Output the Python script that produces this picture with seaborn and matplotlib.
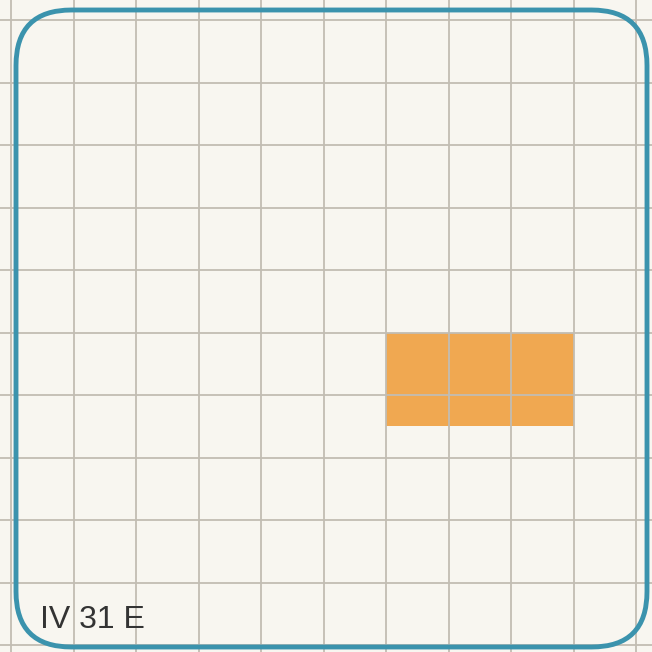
import seaborn as sns
import matplotlib.pyplot as plt
from matplotlib.patches import FancyBboxPatch

# grid cells of the sheet (1 unit = 1 square)
grid_x = list(range(0, 11))
grid_y = list(range(0, 11))

# the coloured block: left, top, width, height in squares
block_left = [6]
block_top = [5]
block_width = [3]
block_height = [1.5]

label = "IV 31 E"

sns.set_theme(style="white")
plt.rcParams['font.family'] = ['Liberation Sans', 'DejaVu Sans']

fig = plt.figure(figsize=(6.52, 6.52), dpi=100)
fig.patch.set_facecolor('#f8f6f0')
ax = fig.add_axes([0, 0, 1, 1])
ax.set_facecolor('#f8f6f0')

ax.set_xlim(-0.176, 10.256)
ax.set_ylim(10.11, -0.32)

ax.bar([l + w / 2 for l, w in zip(block_left, block_width)], block_height,
       width=block_width, bottom=block_top, color='#f0a243', alpha=0.92,
       edgecolor='none', zorder=1)

for gx in grid_x:
    ax.axvline(gx, color='#c2bdb3', lw=1.3, zorder=2)
for gy in grid_y:
    ax.axhline(gy, color='#c2bdb3', lw=1.3, zorder=2)

ax.set_xticks([])
ax.set_yticks([])
for s in ax.spines.values():
    s.set_visible(False)

border = FancyBboxPatch((16 / 652, 5 / 652), 631 / 652, 637 / 652,
                        boxstyle="round,pad=0,rounding_size=0.085",
                        transform=ax.transAxes, fill=False,
                        edgecolor='#3b93ad', lw=3.5, zorder=3)
ax.add_patch(border)

ax.text(40 / 652, 1 - 620 / 652, label, transform=ax.transAxes,
        fontsize=23, color='#333333', va='center', ha='left', zorder=4)

fig.savefig('out.png', dpi=100, facecolor=fig.get_facecolor())
